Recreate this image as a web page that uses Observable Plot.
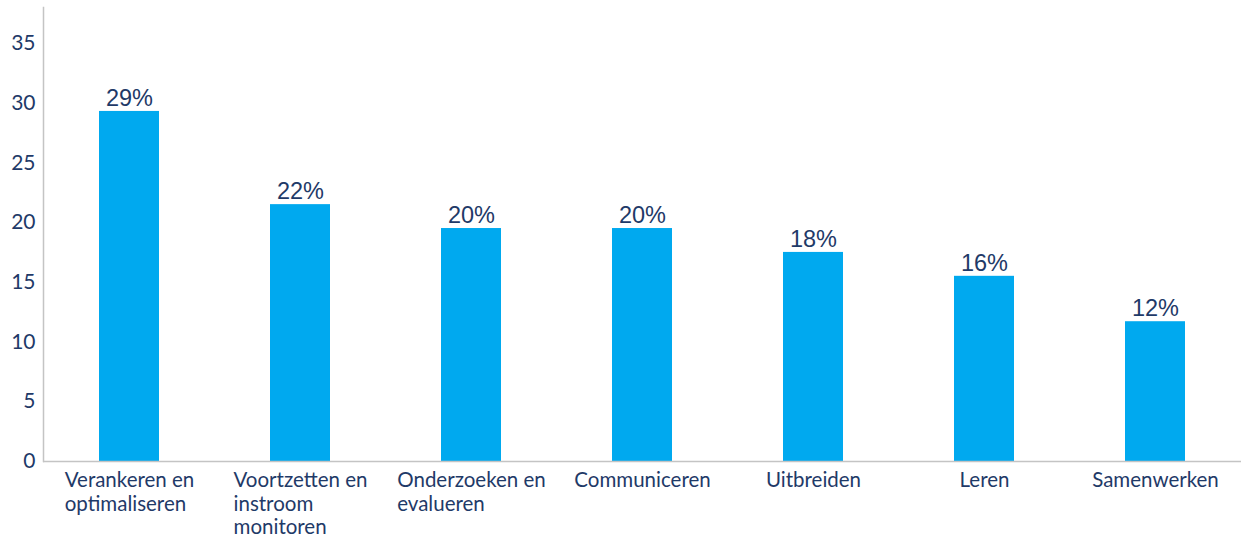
<!DOCTYPE html>
<html>
<head>
<meta charset="utf-8">
<script src="https://cdn.jsdelivr.net/npm/d3@7"></script>
<script src="https://cdn.jsdelivr.net/npm/@observablehq/plot@0.6"></script>
<style>
  html, body { margin: 0; padding: 0; background: #fff; }
  #chart { width: 1243px; height: 540px; }
</style>
</head>
<body>
<div id="chart"></div>
<script>
const categories = [
  "Verankeren en\noptimaliseren",
  "Voortzetten en\ninstroom\nmonitoren",
  "Onderzoeken en\nevalueren",
  "Communiceren",
  "Uitbreiden",
  "Leren",
  "Samenwerken"
];
const values = [29.3, 21.5, 19.5, 19.5, 17.5, 15.5, 11.7];
const valueLabels = ["29%", "22%", "20%", "20%", "18%", "16%", "12%"];
const yTicks = [0, 5, 10, 15, 20, 25, 30, 35];

const data = categories.map((c, i) => ({category: c, value: values[i], label: valueLabels[i]}));

const navy = "#1f3a68";
const barColor = "#00a9ef";
const axisGray = "#c4c4c4";

const chart = Plot.plot({
  width: 1243,
  height: 540,
  marginLeft: 43,
  marginRight: 2,
  marginTop: 7,
  marginBottom: 79,
  style: {fontFamily: "Lato, sans-serif", color: navy, background: "#fff"},
  x: {domain: categories, paddingInner: 0.65, paddingOuter: 0.325, label: null},
  y: {domain: [0, 38], label: null},
  marks: [
    Plot.barY(data, {x: "category", y: "value", fill: barColor}),
    Plot.text(data, {x: "category", y: "value", text: "label", dy: -13, fill: navy,
      fontSize: 23.5, fontFamily: "'Liberation Sans', Arial, sans-serif"}),
    Plot.axisY({ticks: yTicks, tickSize: 0, tickPadding: 8, fontSize: 21, fill: navy, label: null}),
    Plot.axisX({tickSize: 0, tickPadding: 8, fontSize: 20.5, fill: navy, lineHeight: 1.17, label: null}),
    Plot.frame({anchor: "left", stroke: axisGray, strokeWidth: 1.5}),
    Plot.ruleY([0], {stroke: axisGray, strokeWidth: 1.5})
  ]
});
document.getElementById("chart").appendChild(chart);

// left-align multi-line x tick labels within a centered block
chart.querySelectorAll('g[aria-label="x-axis tick label"] text').forEach(t => {
  const w = t.getBBox().width;
  t.setAttribute("text-anchor", "start");
  const tspans = t.querySelectorAll("tspan");
  if (tspans.length) tspans.forEach(s => s.setAttribute("x", -w / 2));
  else t.setAttribute("x", -w / 2);
});
</script>
</body>
</html>
